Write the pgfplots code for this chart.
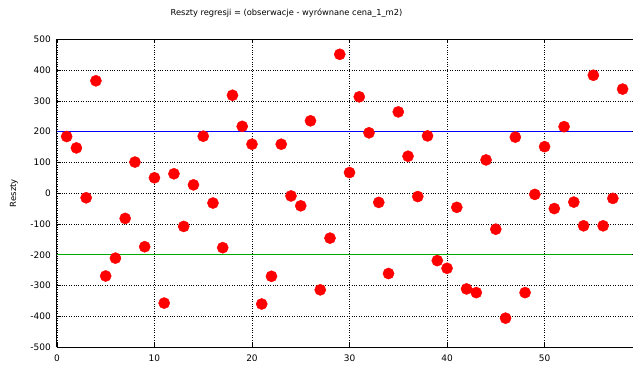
\documentclass[border=0pt]{standalone}
\usepackage{pgfplots}
\pgfplotsset{compat=1.18}
\usepackage{fontspec}
\setmainfont{DejaVu Sans}
\usetikzlibrary{calc}
\definecolor{lgreen}{RGB}{0,170,0}
\definecolor{lblue}{RGB}{0,0,255}
\definecolor{pred}{RGB}{255,0,0}
\begin{document}
\begin{tikzpicture}
\begin{axis}[
  name=ax,
  scale only axis,
  width=576.4pt, height=308.4pt,
  xmin=0, xmax=59, ymin=-500, ymax=500,
  xtick={0,10,20,30,40,50},
  ytick={-500,-400,-300,-200,-100,0,100,200,300,400,500},
  /pgf/number format/assume math mode=true,
  ticklabel style={font=\fontsize{9}{10}\selectfont},
  xticklabel style={yshift=-4pt},
  yticklabel style={xshift=-2.5pt},
  tick align=inside,
  major tick length=4pt,
  tick style={black, line width=0.6pt},
  grid=major,
  grid style={black, dotted, line width=0.6pt},
  axis line style={black, line width=0.9pt},
  axis y line*=left,
  ylabel={Reszty},
  ylabel style={font=\fontsize{8.5}{10}\selectfont, at={(rel axis cs:0,0.5)}, anchor=center, yshift=43pt},
  title={Reszty regresji = (obserwacje - wyrównane cena\_1\_m2)},
  title style={font=\fontsize{8.3}{10}\selectfont, at={(rel axis cs:0.399,1)}, anchor=base, yshift=18pt},
  clip=false,
]
\addplot[draw=lgreen, line width=1.3pt, mark=none, forget plot] coordinates {(0,-200) (59,-200)};
\addplot[only marks, mark=*, mark size=5.6pt, mark options={fill=pred, draw=pred}] coordinates {
(1,184) (2,147) (3,-15) (4,365) (5,-269) (6,-211) (7,-82) (8,101) (9,-174) (10,50)
(11,-357) (12,63) (13,-108) (14,27) (15,185) (16,-32) (17,-177) (18,318) (19,217) (20,159)
(21,-360) (22,-270) (23,159) (24,-9) (25,-41) (26,235) (27,-314) (28,-146) (29,451) (30,67)
(31,313) (32,196) (33,-30) (34,-261) (35,264) (36,120) (37,-11) (38,186) (39,-219) (40,-244)
(41,-46) (42,-311) (43,-323) (44,108) (45,-117) (46,-406) (47,182) (48,-323) (49,-4) (50,151)
(51,-50) (52,216) (53,-29) (54,-106) (55,383) (56,-106) (57,-17) (58,338)
};
\addplot[draw=lblue, line width=1.3pt, mark=none, forget plot] coordinates {(0,200) (59,200)};
\end{axis}
\path[use as bounding box] ($(ax.south west)+(-57pt,-19.3pt)$) rectangle ($(ax.north east)+(0pt,39.3pt)$);
\end{tikzpicture}
\end{document}
